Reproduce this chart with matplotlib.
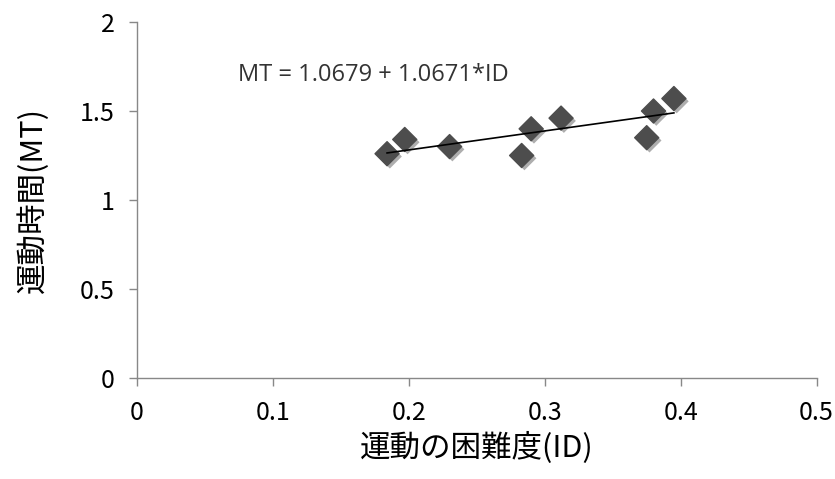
import matplotlib
matplotlib.use("Agg")
import matplotlib.pyplot as plt
import matplotlib.patheffects as pe
import numpy as np

# difficulty (ID) vs movement time (MT)
ids = [0.184, 0.197, 0.230, 0.283, 0.290, 0.312, 0.375, 0.380, 0.395]
mts = [1.26, 1.34, 1.30, 1.25, 1.40, 1.46, 1.35, 1.50, 1.57]
intercept = 1.0679
slope = 1.0671
x_ticks = [0, 0.1, 0.2, 0.3, 0.4, 0.5]
y_ticks = [0, 0.5, 1, 1.5, 2]
y_tick_labels = ["0", "0.5", "1", "1.5", "2"]

jp = ["Noto Sans CJK JP", "DejaVu Sans"]
plt.rcParams["font.family"] = jp

fig = plt.figure(figsize=(8.35, 4.79), dpi=100)
ax = fig.add_axes([0.164, 0.211, 0.814, 0.743])

ax.scatter(ids, mts, marker="D", s=150, color="#4d4d4d", zorder=3,
           path_effects=[pe.SimplePatchShadow(offset=(2, -2), alpha=0.35), pe.Normal()])

xs = np.array([min(ids), max(ids)])
ax.plot(xs, intercept + slope * xs, color="black", lw=1.2, zorder=4)

ax.text(0.074, 1.70, "MT = 1.0679 + 1.0671*ID", fontsize=17, color="#333333",
        family=["Open Sans", "DejaVu Sans"], va="center", ha="left")

ax.set_xlim(0, 0.5)
ax.set_ylim(0, 2)
ax.set_xticks(x_ticks)
ax.set_xticklabels([str(t) for t in x_ticks])
ax.set_yticks(y_ticks)
ax.set_yticklabels(y_tick_labels)
for s in ("top", "right"):
    ax.spines[s].set_visible(False)
for s in ("left", "bottom"):
    ax.spines[s].set_color("#888888")
    ax.spines[s].set_linewidth(1)
ax.tick_params(axis="both", colors="#888888", labelcolor="black", labelsize=18,
               length=6, width=1, direction="out")
ax.tick_params(axis="x", pad=10)
ax.tick_params(axis="y", pad=10)

ax.set_xlabel("運動の困難度(ID)", fontsize=22, labelpad=4)
ax.set_ylabel("運動時間(MT)", fontsize=22, labelpad=22)

fig.savefig("out.png", dpi=100)
